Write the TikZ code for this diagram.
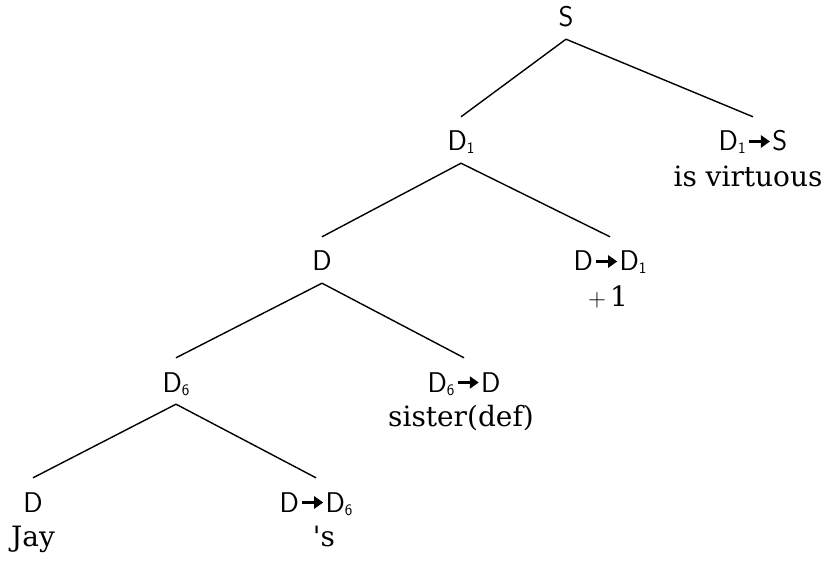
\documentclass[tikz,border=0pt]{standalone}
\usepackage{fontspec}
\setmainfont{DejaVu Serif}
\usetikzlibrary{arrows.meta}
\newcommand{\sbs}[1]{\raisebox{-3pt}{\fontsize{16}{16}\selectfont #1}}
\newcommand{\darr}{\hspace{2pt}\tikz[baseline=0pt]\draw[line width=2.8pt,-{Triangle[length=9pt,width=12pt]}](0,9.5pt)--(21pt,9.5pt);\hspace{1pt}}
\begin{document}
\begin{tikzpicture}[x=1pt,y=-1pt,
  cat/.style={font=\sffamily\fontsize{28.5}{32}\selectfont, anchor=base, inner xsep=0pt, inner ysep=12pt, text height=22pt, text depth=0pt},
  word/.style={font=\fontsize{28}{32}\selectfont, anchor=base, inner sep=0pt},
  branch/.style={line width=1.4pt}]
\useasboundingbox (0,0) rectangle (830,561);
\node[cat] (S) at (566,27) {S};
\node[cat] (D1) at (461,151) {D\sbs{1}};
\node[cat] (D1S) at (753,151) {D\sbs{1}\darr S};
\node[word] (isv) at (748,187) {is virtuous};
\node[cat] (D) at (322,271) {D};
\node[cat] (DD1) at (610,271) {D\darr D\sbs{1}};
\node[word] (plus) at (608,307) {$+\,$1};
\node[cat] (D6) at (176,392) {D\sbs{6}};
\node[cat] (D6D) at (464,392) {D\sbs{6}\darr D};
\node[word] (sister) at (461,426) {sister(def)};
\node[cat] (Dl) at (33,512) {D};
\node[cat] (DD6) at (316,512) {D\darr D\sbs{6}};
\node[word] (jay) at (33,546) {Jay};
\node[word] (poss) at (324,546) {\textquotesingle s};
\draw[branch] (S.south) -- (D1.north);
\draw[branch] (S.south) -- (D1S.north);
\draw[branch] (D1.south) -- (D.north);
\draw[branch] (D1.south) -- (DD1.north);
\draw[branch] (D.south) -- (D6.north);
\draw[branch] (D.south) -- (D6D.north);
\draw[branch] (D6.south) -- (Dl.north);
\draw[branch] (D6.south) -- (DD6.north);
\end{tikzpicture}
\end{document}
